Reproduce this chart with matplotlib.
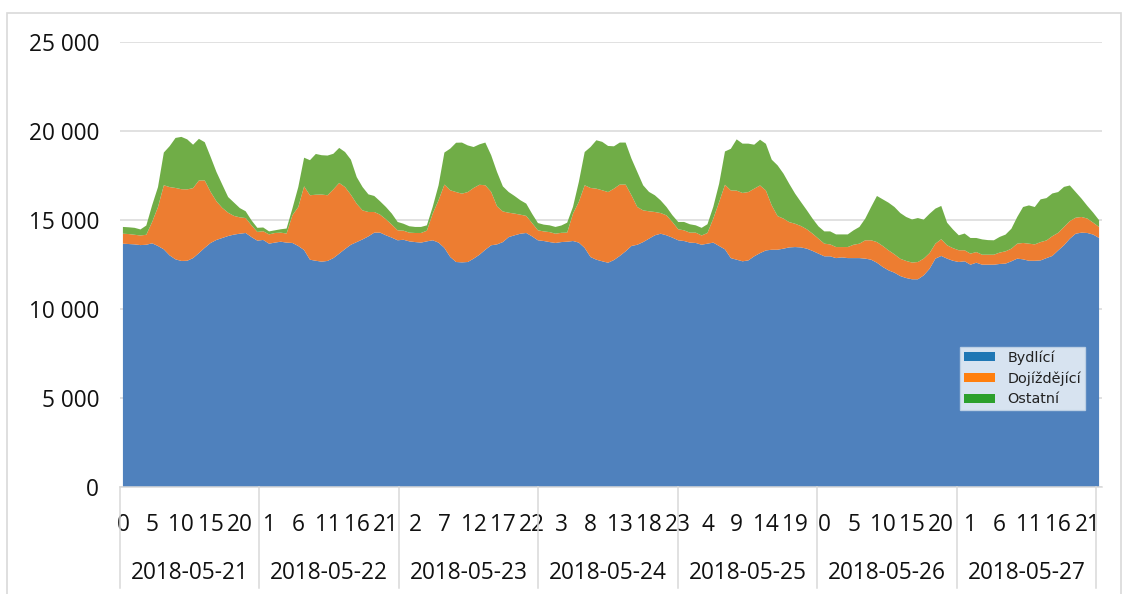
import matplotlib.pyplot as plt
from matplotlib.patches import Patch, Rectangle
from matplotlib.ticker import FuncFormatter

# data (hourly values, 7 days)
dates = ['2018-05-21', '2018-05-22', '2018-05-23', '2018-05-24',
         '2018-05-25', '2018-05-26', '2018-05-27']
hours = list(range(24))

bydlici = [
    13670, 13650, 13630, 13590, 13610, 13690, 13540, 13350, 13010, 12790, 12700, 12710,
    12860, 13140, 13440, 13710, 13880, 13990, 14100, 14180, 14230, 14270, 14040, 13840,
    13880, 13670, 13730, 13780, 13730, 13710, 13540, 13310, 12770, 12710, 12660, 12700,
    12860, 13110, 13370, 13610, 13760, 13910, 14080, 14290, 14290, 14140, 14010, 13860,
    13890, 13800, 13760, 13730, 13800, 13860, 13730, 13430, 12920, 12640, 12620, 12640,
    12830, 13050, 13330, 13580, 13630, 13760, 14040, 14140, 14230, 14270, 14080, 13860,
    13820, 13760, 13710, 13760, 13780, 13820, 13730, 13430, 12920, 12770, 12680, 12600,
    12750, 12980, 13240, 13540, 13610, 13760, 13950, 14140, 14230, 14140, 14010, 13860,
    13820, 13730, 13710, 13610, 13670, 13730, 13540, 13350, 12860, 12770, 12680, 12730,
    12960, 13140, 13290, 13330, 13330, 13390, 13460, 13480, 13460, 13390, 13260, 13110,
    12960, 12960, 12860, 12900, 12860, 12860, 12860, 12830, 12770, 12600, 12360, 12170,
    12040, 11850, 11740, 11670, 11670, 11890, 12260, 12830, 12980, 12830, 12710, 12640,
    12680, 12490, 12600, 12490, 12490, 12490, 12530, 12550, 12680, 12830, 12790, 12710,
    12710, 12730, 12860, 12980, 13290, 13580, 13950, 14230, 14290, 14270, 14180, 13990,
]

dojizdejici = [
    560, 560, 540, 540, 560, 1200, 2190, 3600, 3840, 4010, 4030, 4010,
    3930, 4080, 3780, 2870, 2170, 1690, 1310, 1050, 920, 840, 660, 490,
    490, 520, 540, 510, 510, 1560, 2190, 3580, 3620, 3710, 3770, 3690,
    3860, 3970, 3480, 2810, 2150, 1630, 1370, 1160, 1010, 900, 730, 560,
    510, 490, 510, 540, 600, 1500, 2380, 3560, 3750, 3930, 3860, 3930,
    3970, 3930, 3620, 3000, 2140, 1720, 1370, 1220, 1070, 960, 750, 560,
    540, 560, 520, 520, 510, 1540, 2290, 3520, 3880, 3990, 3990, 3970,
    4010, 4010, 3750, 2850, 2120, 1780, 1540, 1310, 1160, 1120, 880, 620,
    600, 560, 580, 520, 600, 1350, 2470, 3630, 3800, 3880, 3840, 3840,
    3800, 3800, 3370, 2490, 1890, 1690, 1420, 1310, 1200, 1090, 970, 840,
    710, 670, 620, 580, 620, 750, 810, 1030, 1090, 1160, 1180, 1120,
    1030, 970, 960, 940, 970, 940, 880, 840, 940, 750, 710, 660,
    620, 620, 600, 560, 560, 560, 640, 690, 710, 840, 920, 960,
    920, 1030, 990, 1110, 990, 1030, 990, 900, 880, 810, 670, 620,
]

ostatni = [
    380, 380, 390, 340, 520, 940, 1120, 1840, 2300, 2810, 2940, 2810,
    2440, 2340, 2150, 1970, 1650, 1310, 880, 750, 520, 380, 280, 230,
    210, 170, 150, 190, 280, 380, 1120, 1610, 1970, 2290, 2210, 2230,
    2000, 1970, 1970, 1970, 1500, 1310, 990, 900, 750, 690, 620, 470,
    390, 360, 340, 340, 300, 380, 840, 1800, 2340, 2770, 2870, 2620,
    2300, 2270, 2400, 2060, 1930, 1410, 1160, 990, 810, 690, 520, 410,
    380, 380, 380, 410, 560, 380, 1120, 1870, 2300, 2720, 2720, 2590,
    2380, 2360, 2360, 2060, 1970, 1410, 1090, 940, 710, 470, 380, 410,
    470, 470, 410, 430, 490, 660, 1030, 1870, 2340, 2880, 2770, 2720,
    2470, 2570, 2620, 2570, 2850, 2530, 2150, 1690, 1350, 1070, 840, 690,
    690, 730, 710, 710, 710, 810, 940, 1220, 1870, 2590, 2620, 2680,
    2660, 2570, 2470, 2420, 2470, 2190, 2210, 1970, 1870, 1270, 1050, 840,
    940, 880, 790, 860, 820, 810, 880, 940, 1120, 1500, 2020, 2150,
    2100, 2400, 2380, 2400, 2290, 2250, 2000, 1440, 1030, 710, 560, 380,
]

labels = ['Bydlící', 'Dojíždějící', 'Ostatní']

# kategorie: hodiny za sebou pro kazdy den
x = list(range(len(dates) * len(hours)))
n = len(x)

fig = plt.figure(figsize=(11.29, 5.94), dpi=100)
ax = fig.add_axes([120 / 1129, 1 - 487 / 594, 982 / 1129, 445 / 594])

ax.stackplot(x, bydlici, dojizdejici, ostatni,
             colors=['#4f81bd', '#ed7d31', '#70ad47'], linewidth=0)

ax.set_xlim(-0.5, n - 0.5)
ax.set_ylim(0, 25000)
ax.set_yticks(range(0, 25001, 5000))
ax.yaxis.set_major_formatter(FuncFormatter(lambda v, p: f'{v:,.0f}'.replace(',', ' ')))
ax.grid(axis='y', color='#d9d9d9', linewidth=1.1)
ax.set_axisbelow(True)

for s in ['top', 'right', 'left']:
    ax.spines[s].set_visible(False)
ax.spines['bottom'].set_color('#d9d9d9')
ax.spines['bottom'].set_linewidth(1.1)

tick_font = 'Open Sans'
txt_color = '#111111'
fs = 16.3
ax.tick_params(axis='y', length=0, pad=15, labelsize=fs, labelcolor=txt_color)
for t in ax.get_yticklabels():
    t.set_fontfamily(tick_font)

# popisky hodin kazdych 5 kategorii
pos = x[::5]
ax.set_xticks(pos, [str(hours[i % 24]) for i in pos])
ax.tick_params(axis='x', length=0, pad=19, labelsize=fs, labelcolor=txt_color)
for t in ax.get_xticklabels():
    t.set_fontfamily(tick_font)

# oddelovace dnu a data
trans = ax.get_xaxis_transform()
step = (n - 1) / len(dates)
for d in range(len(dates) + 1):
    xs = -0.5 + d * step
    ax.plot([xs, xs], [0, -101 / 445], transform=trans, color='#d9d9d9',
            linewidth=1.1, clip_on=False)
for d, lab in enumerate(dates):
    ax.text(-0.5 + (d + 0.5) * step, -86 / 445, lab, transform=trans,
            ha='center', va='center', fontsize=fs, family=tick_font, color=txt_color)

# legenda
handles = [Patch(facecolor=c, label=l) for c, l in
           zip(['#1f77b4', '#ff7f0e', '#2ca02c'], labels)]
leg = ax.legend(handles=handles, loc='lower left', bbox_to_anchor=(840 / 982, 77 / 445),
                frameon=True, fancybox=False, framealpha=0.78, facecolor='white',
                edgecolor='#c8d8e8', fontsize=10.4, borderpad=0.25, borderaxespad=0,
                handlelength=2.2, handleheight=0.55, handletextpad=0.85,
                labelspacing=0.45)
for t in leg.get_texts():
    t.set_color('#222222')

# ramecek grafu
fig.patches.append(Rectangle((7 / 1129, -0.01), 1114 / 1129, 0.01 + 1 - 13 / 594,
                             transform=fig.transFigure, fill=False,
                             edgecolor='#d9d9d9', linewidth=1.2))

plt.savefig('out.png')
